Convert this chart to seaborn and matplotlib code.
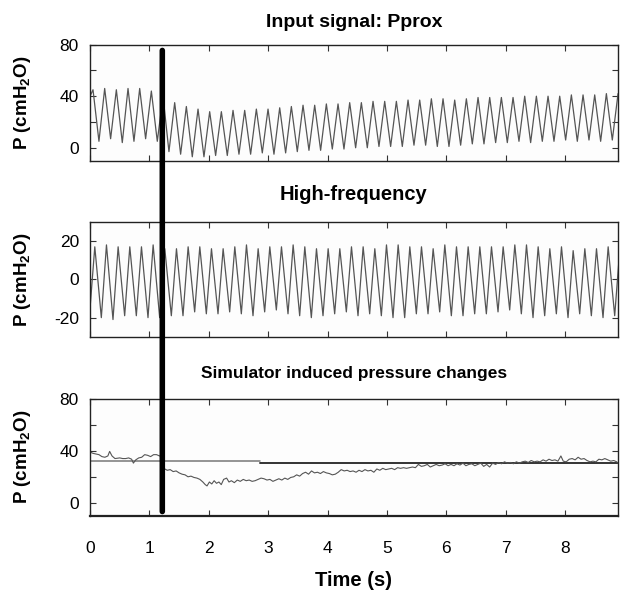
import numpy as np
import pandas as pd
import matplotlib
matplotlib.use("Agg")
import matplotlib.pyplot as plt
from matplotlib.patches import ConnectionPatch
import seaborn as sns

# ---- data ------------------------------------------------------------
period = 0.1965          # s, breathing-oscillator cycle
marker_t = 1.217         # s, vertical event marker

# Input signal Pprox: start value, then one peak and one trough per cycle
pprox_start = 40
pprox_first_peak = 0.05
pprox_trough_lag = 0.10
pprox_peaks = [45, 46, 45, 46, 46, 44, 40, 35, 32, 30, 28, 28, 29, 29, 30, 30,
               31, 32, 33, 33, 34, 34, 35, 35, 36, 36, 36, 37, 37, 38, 38, 37,
               38, 39, 39, 39, 39, 40, 40, 40, 40, 41, 41, 41, 42, 42]
pprox_troughs = [5, 7, 4, 5, 7, 5, -3, -5, -7, -7, -6, -6, -5, -5, -4, -5,
                 -4, -3, -2, -2, -1, -1, 0, 0, 1, 1, 1, 2, 2, 1, 1, 2,
                 3, 3, 4, 4, 5, 4, 5, 5, 6, 5, 6, 5, 6, 6]

# High-frequency component
hf_start = -15
hf_first_peak = 0.08
hf_trough_lag = 0.11
hf_peaks = [17, 18, 17, 17, 17, 18, 16, 16, 17, 17, 16, 16, 17, 18, 16, 17,
            17, 18, 17, 16, 16, 16, 17, 17, 16, 18, 18, 17, 17, 16, 18, 17,
            17, 17, 17, 17, 18, 18, 17, 16, 17, 15, 16, 16, 17, 16]
hf_troughs = [-20, -21, -19, -19, -20, -20, -19, -19, -17, -18, -18, -17, -18,
              -19, -17, -16, -18, -19, -20, -19, -18, -17, -19, -18, -19, -20,
              -20, -18, -18, -17, -19, -19, -18, -18, -17, -16, -18, -20, -19,
              -18, -20, -18, -19, -20, -19, -18]

# Simulator induced pressure changes (slow trace)
slow_t = [0.00, 0.05, 0.10, 0.15, 0.20, 0.25, 0.30, 0.33, 0.37, 0.42, 0.50, 0.55,
          0.60, 0.65, 0.70, 0.73, 0.77, 0.82, 0.87, 0.92, 0.97, 1.02, 1.07, 1.12,
          1.17, 1.20, 1.22, 1.26, 1.30, 1.35, 1.40, 1.45, 1.50, 1.55, 1.60, 1.65,
          1.70, 1.75, 1.80, 1.85, 1.90, 1.94, 1.97, 2.01, 2.05, 2.09, 2.13, 2.17,
          2.21, 2.25, 2.30, 2.34, 2.38, 2.43, 2.48, 2.53, 2.58, 2.63, 2.68, 2.73,
          2.78, 2.83, 2.88, 2.93, 2.98, 3.03, 3.08, 3.13, 3.18, 3.23, 3.28, 3.33,
          3.38, 3.43, 3.48, 3.53, 3.58, 3.63, 3.68, 3.73, 3.78, 3.83, 3.88, 3.93,
          3.98, 4.03, 4.08, 4.13, 4.18, 4.23, 4.28, 4.33, 4.38, 4.43, 4.48, 4.53,
          4.58, 4.63, 4.68, 4.73, 4.78, 4.83, 4.88, 4.93, 4.98, 5.03, 5.08, 5.13,
          5.18, 5.23, 5.28, 5.33, 5.38, 5.43, 5.48, 5.53, 5.58, 5.63, 5.68, 5.73,
          5.78, 5.83, 5.88, 5.93, 5.98, 6.03, 6.08, 6.13, 6.18, 6.23, 6.28, 6.33,
          6.38, 6.43, 6.48, 6.53, 6.58, 6.63, 6.68, 6.73, 6.78, 6.83, 6.88, 6.93,
          6.98, 7.03, 7.08, 7.13, 7.18, 7.23, 7.28, 7.33, 7.38, 7.43, 7.48, 7.53,
          7.58, 7.63, 7.68, 7.73, 7.78, 7.83, 7.88, 7.93, 7.97, 8.02, 8.07, 8.12,
          8.17, 8.22, 8.27, 8.32, 8.37, 8.42, 8.47, 8.52, 8.57, 8.62, 8.67, 8.72,
          8.77, 8.82, 8.87, 8.89]
slow_p = [39, 38, 37.5, 37, 35.5, 35, 36, 39.5, 36, 34, 34.5, 34,
          34, 34.5, 33.5, 30.5, 33, 34.5, 35, 37, 36.5, 35.5, 37, 37,
          36, 36, 27, 26, 25, 25.5, 24, 24.5, 23, 22, 21.5, 20,
          20.5, 19.5, 19, 18, 16, 14, 13, 16, 14.5, 17, 15, 16,
          14, 18, 19, 16, 17, 15.5, 17.5, 16.5, 18, 17, 17.5, 16.5,
          17, 18, 19, 18.5, 17.5, 18, 16.5, 17.5, 18.5, 17.5, 19, 18,
          19.5, 20, 21.5, 20.5, 22.5, 23.5, 22, 24.5, 23, 23.5, 22.5, 24,
          23, 22.5, 21.5, 22, 23.5, 25.5, 24.5, 25, 24, 24.5, 23.5, 25,
          24, 25.5, 24.5, 25, 23.5, 26, 25, 26.5, 25.5, 26, 26.5, 25.5,
          27, 26.5, 27, 26.5, 27, 27.5, 27, 29.5, 28, 28.5, 29.5, 27.5,
          28.5, 29.5, 28.5, 29, 30, 28.5, 29.5, 28.5, 30, 29, 30.5, 28.5,
          29.5, 30, 28.5, 29.5, 30.5, 28, 29.5, 27.5, 30.5, 29.5, 31, 30,
          31.5, 30.5, 31, 30, 31.5, 30.5, 31.5, 32, 31, 32.5, 31.5, 32,
          31.5, 33, 32, 33.5, 32.5, 33, 32, 36, 32, 31.5, 33.5, 34,
          33, 35, 33.5, 34, 32.5, 31.5, 32, 31.5, 33.5, 33, 34, 33,
          32, 32.5, 31.5, 30.5]

# set-point (reference) levels of the simulator
ref_t1 = [0.0, 2.86]
ref_p1 = [32, 32]
ref_t2 = [2.86, 8.89]
ref_p2 = [30.5, 30.5]

x_ticks = [0, 1, 2, 3, 4, 5, 6, 7, 8]
titles = ["Input signal: Pprox", "High-frequency",
          "Simulator induced pressure changes"]
ylab = "P (cmH$_\\mathbf{2}$O)"


def oscillation(start, first_peak, lag, peaks, troughs):
    t = [0.0]
    p = [start]
    for k in range(len(peaks)):
        tk = first_peak + k * period
        t += [tk, tk + lag]
        p += [peaks[k], troughs[k]]
    return pd.DataFrame({"t": t, "p": p})


pprox = oscillation(pprox_start, pprox_first_peak, pprox_trough_lag,
                    pprox_peaks, pprox_troughs)
hf = oscillation(hf_start, hf_first_peak, hf_trough_lag, hf_peaks, hf_troughs)
slow = pd.DataFrame({"t": slow_t, "p": slow_p})

# ---- figure ----------------------------------------------------------
sns.set_style("ticks")
plt.rcParams["font.family"] = ["Liberation Sans", "DejaVu Sans"]
plt.rcParams["mathtext.fontset"] = "custom"
plt.rcParams["mathtext.rm"] = "Liberation Sans:bold"
plt.rcParams["mathtext.bf"] = "Liberation Sans:bold"
for key in ["text.color", "axes.labelcolor", "xtick.color", "ytick.color"]:
    plt.rcParams[key] = "black"

fig = plt.figure(figsize=(6.21, 5.95), dpi=100)
ax1 = fig.add_axes([0.145, 0.730, 0.850, 0.195])
ax2 = fig.add_axes([0.145, 0.434, 0.850, 0.193])
ax3 = fig.add_axes([0.145, 0.133, 0.850, 0.197])

line_col = "#555555"
sns.lineplot(data=pprox, x="t", y="p", ax=ax1, color=line_col, lw=0.9,
             estimator=None, sort=False)
sns.lineplot(data=hf, x="t", y="p", ax=ax2, color=line_col, lw=0.9,
             estimator=None, sort=False)
sns.lineplot(x=ref_t1, y=ref_p1, ax=ax3, color="#777777", lw=1.1)
sns.lineplot(x=ref_t2, y=ref_p2, ax=ax3, color="#333333", lw=1.4)
sns.lineplot(data=slow, x="t", y="p", ax=ax3, color="#555555", lw=0.8,
             estimator=None, sort=False)

ylims = [(-10, 80), (-30, 30), (-10, 80)]
yticks = [[0, 20, 40, 60, 80], [-20, 0, 20], [0, 20, 40, 60, 80]]
ylabels = [["0", "", "40", "", "80"], ["-20", "0", "20"],
           ["0", "", "40", "", "80"]]
pads = [13, 16, 15]
title_sizes = [14, 14.5, 12.5]

for i, ax in enumerate([ax1, ax2, ax3]):
    ax.set_facecolor("#fdfdfd")
    ax.set_xlim(0, 8.89)
    ax.set_ylim(*ylims[i])
    ax.set_xticks(x_ticks)
    ax.set_yticks(yticks[i])
    ax.set_yticklabels(ylabels[i])
    ax.tick_params(direction="in", top=True, right=True, length=4,
                   width=0.8, color="#333333", labelsize=12.5, pad=8)
    for s in ax.spines.values():
        s.set_visible(True)
        s.set_color("#222222")
        s.set_linewidth(1.0)
    ax.set_title(titles[i], fontsize=title_sizes[i], fontweight="bold",
                 pad=pads[i])
    ax.set_ylabel(ylab, fontsize=13.5, fontweight="bold")
    ax.yaxis.set_label_coords(-0.108, 0.5)
    if i < 2:
        ax.set_xticklabels([])
        ax.set_xlabel("")

ax3.spines["bottom"].set_linewidth(1.6)
ax3.tick_params(axis="x", pad=18)
ax3.set_xlabel("Time (s)", fontsize=14.5, fontweight="bold", labelpad=11)

# thick event marker spanning all three panels
con = ConnectionPatch(xyA=(marker_t, 75.5), coordsA=ax1.transData,
                      xyB=(marker_t, -6.7), coordsB=ax3.transData,
                      color="black", lw=4)
fig.add_artist(con)

fig.savefig("out.png", dpi=100, facecolor="white")
